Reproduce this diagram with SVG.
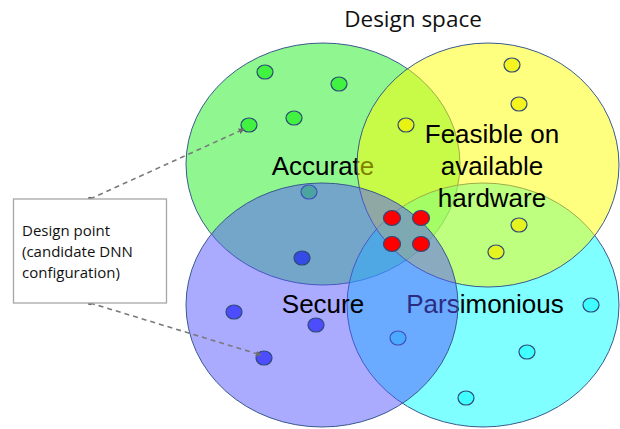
<svg xmlns="http://www.w3.org/2000/svg" width="620" height="429" viewBox="0 0 620 429">
  <defs>
    <style>
      .set { stroke: #3A5A8C; stroke-width: 1; fill-opacity: 0.5; }
      .dot { stroke: #2E4A78; stroke-width: 1.2; }
      .big { font-family: "Liberation Sans", Arial, sans-serif; font-size: 26px; fill: #000; text-anchor: middle; }
      .note { font-family: "Open Sans", "Liberation Sans", sans-serif; fill: #111; }
      .link { fill: none; stroke: #7A7A7A; stroke-width: 1.6; stroke-dasharray: 5 4; }
    </style>
    <marker id="tip" viewBox="0 0 8 8" refX="7" refY="4" markerWidth="6" markerHeight="6" orient="auto" markerUnits="userSpaceOnUse">
      <path d="M0,0 L8,4 L0,8 z" fill="#6E6E6E"/>
    </marker>
  </defs>

  <rect width="620" height="429" fill="#fff"/>

  <!-- title -->
  <text class="note" x="413" y="27" font-size="22.5" text-anchor="middle">Design space</text>

  <!-- Accurate set -->
  <g id="accurate">
    <ellipse class="set" cx="323" cy="164" rx="137" ry="121" fill="#22EE22"/>
    <g class="dot" fill="#00EE00" fill-opacity="0.55">
      <ellipse cx="265" cy="72" rx="8" ry="7"/>
      <ellipse cx="339" cy="84" rx="8" ry="7"/>
      <ellipse cx="294" cy="118" rx="8" ry="7"/>
      <ellipse cx="249" cy="125" rx="8" ry="7"/>
      <ellipse cx="309" cy="192" rx="8" ry="7"/>
    </g>
    <text class="big" x="323" y="175">Accurate</text>
  </g>

  <!-- Parsimonious set -->
  <g id="parsimonious">
    <ellipse class="set" cx="483" cy="305" rx="136" ry="122" fill="#00FFFF"/>
    <g class="dot" fill="#00FFFF" fill-opacity="0.5">
      <ellipse cx="398" cy="338" rx="8" ry="7"/>
      <ellipse cx="591" cy="305" rx="8" ry="7"/>
      <ellipse cx="527" cy="352" rx="8" ry="7"/>
      <ellipse cx="466" cy="398" rx="8" ry="7"/>
    </g>
    <text class="big" x="485" y="313">Parsimonious</text>
  </g>

  <!-- Feasible set -->
  <g id="feasible">
    <ellipse class="set" cx="488" cy="165" rx="131" ry="122" fill="#FFFF00"/>
    <g class="dot" fill="#F2F000" fill-opacity="0.75">
      <ellipse cx="512" cy="65" rx="8" ry="7"/>
      <ellipse cx="519" cy="104" rx="8" ry="7"/>
      <ellipse cx="406" cy="125" rx="8" ry="7"/>
      <ellipse cx="519" cy="225" rx="8" ry="7"/>
      <ellipse cx="496" cy="252" rx="8" ry="7"/>
    </g>
    <text class="big" x="492" y="143">Feasible on</text>
    <text class="big" x="492" y="175">available</text>
    <text class="big" x="492" y="207">hardware</text>
  </g>

  <!-- Secure set -->
  <g id="secure">
    <ellipse class="set" cx="322" cy="305" rx="136" ry="122" fill="#5555FF"/>
    <g class="dot" fill="#0000FF" fill-opacity="0.55">
      <ellipse cx="302" cy="258" rx="8" ry="7"/>
      <ellipse cx="234" cy="312" rx="8" ry="7"/>
      <ellipse cx="316" cy="325" rx="8" ry="7"/>
      <ellipse cx="264" cy="358" rx="8" ry="7"/>
    </g>
    <text class="big" x="323" y="313">Secure</text>
  </g>

  <!-- points in all four sets -->
  <g id="optimal" class="dot" fill="#FF0000">
    <ellipse cx="392" cy="218" rx="8.5" ry="7.5"/>
    <ellipse cx="421" cy="218" rx="8.5" ry="7.5"/>
    <ellipse cx="392" cy="244" rx="8.5" ry="7.5"/>
    <ellipse cx="421" cy="244" rx="8.5" ry="7.5"/>
  </g>

  <!-- dashed pointers from the legend box -->
  <g id="connectors">
    <path class="link" d="M90,199 L244,129" marker-end="url(#tip)"/>
    <path class="link" d="M90,303 L261,355" marker-end="url(#tip)"/>
    <circle cx="90" cy="199" r="2.3" fill="#6E6E6E"/>
    <circle cx="90" cy="303" r="2.3" fill="#6E6E6E"/>
  </g>

  <!-- legend box -->
  <g id="design-point">
    <rect x="13.5" y="199" width="153" height="104" fill="#fff" stroke="#A6A6A6" stroke-width="1.3"/>
    <text class="note" x="22" y="236" font-size="15">Design point</text>
    <text class="note" x="22" y="257" font-size="15">(candidate DNN</text>
    <text class="note" x="22" y="278" font-size="15">configuration)</text>
  </g>
</svg>
